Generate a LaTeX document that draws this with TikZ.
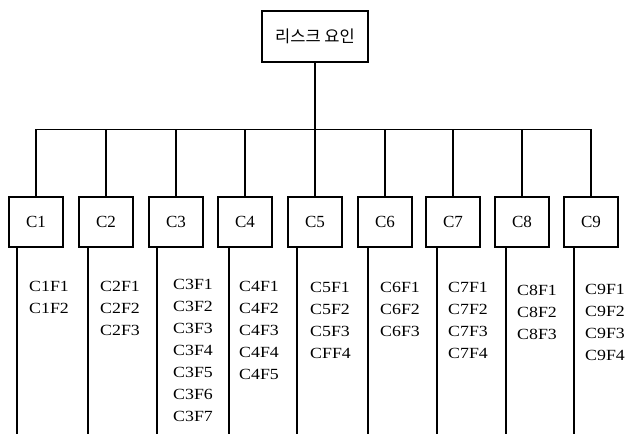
\documentclass[tikz,border=0pt]{standalone}
\usepackage{fontspec}
\setmainfont{Liberation Serif}
\newfontfamily\cjkfont{Noto Sans CJK KR}
\newfontfamily\listfont[FakeStretch=1.15]{Liberation Serif}

\begin{document}
\begin{tikzpicture}[yscale=-1,x=1pt,y=1pt
,pstyle0/.style={draw=black,fill=white,line width=1.5pt,minimum width=54pt,minimum height=50pt,inner sep=0,font=\fontsize{17}{20}\selectfont}
,pstyle1/.style={color=black,line width=1.2pt}
,pstyle2/.style={below right,color=black,inner sep=0,align=left,font=\listfont\fontsize{15.5}{22}\selectfont}
]
\useasboundingbox (0pt,0pt) rectangle (627pt,436pt);
\node (risk) at (315pt,36.5pt)[draw=black,line width=1.5pt,minimum width=106pt,minimum height=51pt,inner sep=0,font=\cjkfont\fontsize{16.5}{18}\selectfont]{리스크 요인};
\node (c1) at (36pt,222pt)[pstyle0]{C1};
\node (c2) at (106pt,222pt)[pstyle0]{C2};
\node (c3) at (176pt,222pt)[pstyle0]{C3};
\node (c4) at (245pt,222pt)[pstyle0]{C4};
\node (c5) at (315pt,222pt)[pstyle0]{C5};
\node (c6) at (385pt,222pt)[pstyle0]{C6};
\node (c7) at (453pt,222pt)[pstyle0]{C7};
\node (c8) at (522pt,222pt)[pstyle0]{C8};
\node (c9) at (591pt,222pt)[pstyle0]{C9};
\coordinate (bus) at (315pt,129.5pt);
\draw[pstyle1] (risk.south) -- (bus);
\draw[pstyle1] (c1.north) |- (c9.north |- bus) -- (c9.north);
\draw[pstyle1] (c2.north) -- (c2.north |- bus);
\draw[pstyle1] (c3.north) -- (c3.north |- bus);
\draw[pstyle1] (c4.north) -- (c4.north |- bus);
\draw[pstyle1] (c5.north) -- (bus);
\draw[pstyle1] (c6.north) -- (c6.north |- bus);
\draw[pstyle1] (c7.north) -- (c7.north |- bus);
\draw[pstyle1] (c8.north) -- (c8.north |- bus);
\coordinate (e1) at (17pt,434pt);
\coordinate (e2) at (88pt,434pt);
\coordinate (e3) at (157pt,434pt);
\coordinate (e4) at (229pt,434pt);
\coordinate (e5) at (297pt,434pt);
\coordinate (e6) at (368pt,434pt);
\coordinate (e7) at (437pt,434pt);
\coordinate (e8) at (506pt,434pt);
\coordinate (e9) at (574pt,434pt);
\draw[pstyle1] (c1.south -| e1) -- (e1);
\draw[pstyle1] (c2.south -| e2) -- (e2);
\draw[pstyle1] (c3.south -| e3) -- (e3);
\draw[pstyle1] (c4.south -| e4) -- (e4);
\draw[pstyle1] (c5.south -| e5) -- (e5);
\draw[pstyle1] (c6.south -| e6) -- (e6);
\draw[pstyle1] (c7.south -| e7) -- (e7);
\draw[pstyle1] (c8.south -| e8) -- (e8);
\draw[pstyle1] (c9.south -| e9) -- (e9);
\node (f1) at (29pt,281pt)[pstyle2]{C1F1\\C1F2};
\node (f2) at (100pt,281pt)[pstyle2]{C2F1\\C2F2\\C2F3};
\node (f3) at (173pt,279.5pt)[pstyle2]{C3F1\\C3F2\\C3F3\\C3F4\\C3F5\\C3F6\\C3F7};
\node (f4) at (239pt,281pt)[pstyle2]{C4F1\\C4F2\\C4F3\\C4F4\\C4F5};
\node (f5) at (310pt,282.5pt)[pstyle2]{C5F1\\C5F2\\C5F3\\CFF4};
\node (f6) at (380pt,282.5pt)[pstyle2]{C6F1\\C6F2\\C6F3};
\node (f7) at (448pt,282.5pt)[pstyle2]{C7F1\\C7F2\\C7F3\\C7F4};
\node (f8) at (517pt,284.5pt)[pstyle2]{C8F1\\C8F2\\C8F3};
\node (f9) at (585pt,284.5pt)[pstyle2]{C9F1\\C9F2\\C9F3\\C9F4};
\end{tikzpicture}
\end{document}
